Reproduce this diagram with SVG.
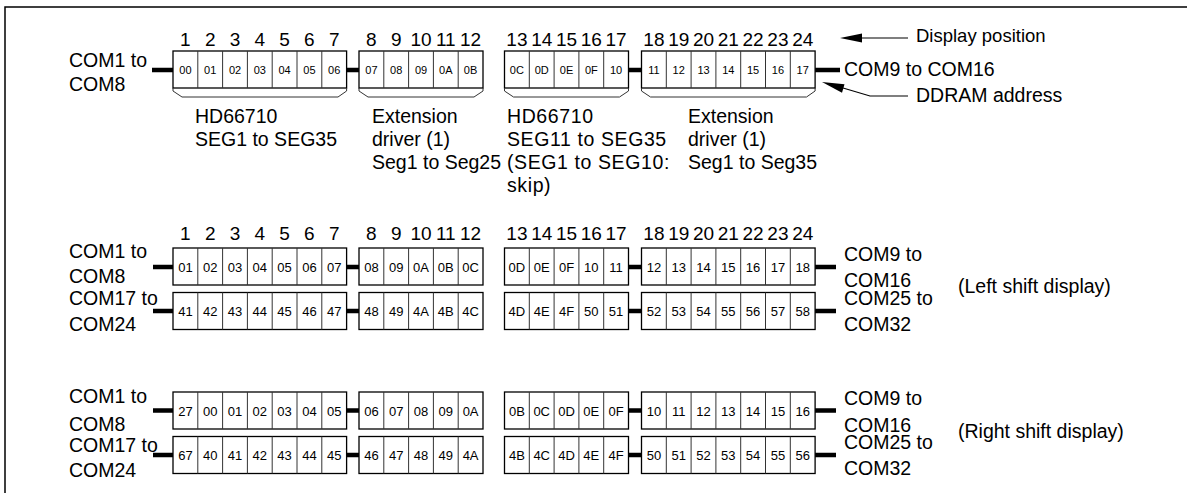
<svg xmlns="http://www.w3.org/2000/svg" width="1187" height="493" viewBox="0 0 1187 493">
<style>
text{font-family:"Liberation Sans",Arial,Helvetica,sans-serif;fill:#000}
.lbl{font-size:19.5px}
.lbs{font-size:18.5px}
.wide{letter-spacing:0.6px}
.num{font-size:19px;text-anchor:middle}
.s{font-size:11px;text-anchor:middle}
.m{font-size:13px;text-anchor:middle}
.box{fill:#fff;stroke:#000;stroke-width:1.3}
.div{stroke:#333;stroke-width:1;fill:none}
.bus{stroke:#000;stroke-width:4.5;fill:none}
.brk{fill:none;stroke:#333;stroke-width:1}
.frm{fill:none;stroke:#000;stroke-width:1.5}
.ptr{fill:none;stroke:#000;stroke-width:1.2}
</style>
<defs>
<g id="b7"><rect class="box" width="173.6" height="37"/><path class="div" d="M24.8,0v37M49.6,0v37M74.4,0v37M99.2,0v37M124,0v37M148.8,0v37"/></g>
<g id="b5"><rect class="box" width="124" height="37"/><path class="div" d="M24.8,0v37M49.6,0v37M74.4,0v37M99.2,0v37"/></g>
</defs>
<path class="frm" d="M5,493V7H1187"/>

<g id="connectors">
<path class="bus" d="M152,70H173M346.6,70H359M628.5,70H641.5M815,70H840"/>
<path class="bus" d="M153,267H173M346.6,267H359M628.5,267H641.5M815,267H836"/>
<path class="bus" d="M153,311H173M346.6,311H359M628.5,311H641.5M815,311H836"/>
<path class="bus" d="M153,410.5H173M346.6,410.5H359M628.5,410.5H641.5M815,410.5H836"/>
<path class="bus" d="M153,455H173M346.6,455H359M628.5,455H641.5M815,455H836"/>
<path class="ptr" d="M858,38H908"/>
<path d="M840,38L862,33.5L862,42.5Z" fill="#000"/>
<path class="ptr" d="M838,86.5L870,96H908"/>
<path d="M822,82L844.5,84.2L842,92.8Z" fill="#000"/>
</g>

<g id="top-positions">
<text class="num" x="185.4" y="46">1</text><text class="num" x="210.2" y="46">2</text><text class="num" x="235" y="46">3</text><text class="num" x="259.8" y="46">4</text><text class="num" x="284.6" y="46">5</text><text class="num" x="309.4" y="46">6</text><text class="num" x="334.2" y="46">7</text>
<text class="num" x="371.4" y="46">8</text><text class="num" x="396.2" y="46">9</text><text class="num" x="421" y="46">10</text><text class="num" x="445.8" y="46">11</text><text class="num" x="470.6" y="46">12</text>
<text class="num" x="516.9" y="46">13</text><text class="num" x="541.7" y="46">14</text><text class="num" x="566.5" y="46">15</text><text class="num" x="591.3" y="46">16</text><text class="num" x="616.1" y="46">17</text>
<text class="num" x="653.9" y="46">18</text><text class="num" x="678.7" y="46">19</text><text class="num" x="703.5" y="46">20</text><text class="num" x="728.3" y="46">21</text><text class="num" x="753.1" y="46">22</text><text class="num" x="777.9" y="46">23</text><text class="num" x="802.7" y="46">24</text>
</g>

<g id="top-A">
<use href="#b7" x="173" y="51"/>
<path class="brk" d="M173,88V91L182,97H338L346.6,91V88"/>
<text class="s" x="185.4" y="74">00</text><text class="s" x="210.2" y="74">01</text><text class="s" x="235" y="74">02</text><text class="s" x="259.8" y="74">03</text><text class="s" x="284.6" y="74">04</text><text class="s" x="309.4" y="74">05</text><text class="s" x="334.2" y="74">06</text>
</g>
<g id="top-B">
<use href="#b5" x="359" y="51"/>
<path class="brk" d="M359,88V91L368,97H474L483,91V88"/>
<text class="s" x="371.4" y="74">07</text><text class="s" x="396.2" y="74">08</text><text class="s" x="421" y="74">09</text><text class="s" x="445.8" y="74">0A</text><text class="s" x="470.6" y="74">0B</text>
</g>
<g id="top-C">
<use href="#b5" x="504.5" y="51"/>
<path class="brk" d="M504.5,88V91L513.5,97H619.5L628.5,91V88"/>
<text class="s" x="516.9" y="74">0C</text><text class="s" x="541.7" y="74">0D</text><text class="s" x="566.5" y="74">0E</text><text class="s" x="591.3" y="74">0F</text><text class="s" x="616.1" y="74">10</text>
</g>
<g id="top-D">
<use href="#b7" x="641.5" y="51"/>
<path class="brk" d="M641.5,88V91L650.5,97H806.5L815.1,91V88"/>
<text class="s" x="653.9" y="74">11</text><text class="s" x="678.7" y="74">12</text><text class="s" x="703.5" y="74">13</text><text class="s" x="728.3" y="74">14</text><text class="s" x="753.1" y="74">15</text><text class="s" x="777.9" y="74">16</text><text class="s" x="802.7" y="74">17</text>
</g>

<g id="top-labels">
<text class="lbl" x="69" y="67">COM1 to</text>
<text class="lbl" x="69" y="91">COM8</text>
<text class="lbl" x="844" y="76">COM9 to COM16</text>
<text class="lbs" x="916" y="42">Display position</text>
<text class="lbl" x="916" y="102">DDRAM address</text>
<text class="lbl" x="195" y="123">HD66710</text>
<text class="lbl" x="195" y="146">SEG1 to SEG35</text>
<text class="lbl" x="372" y="123">Extension</text>
<text class="lbl" x="372" y="146">driver (1)</text>
<text class="lbl" x="372" y="169">Seg1 to Seg25</text>
<text class="lbl wide" x="507" y="123">HD66710</text>
<text class="lbl wide" x="507" y="146">SEG11 to SEG35</text>
<text class="lbl wide" x="507" y="169">(SEG1 to SEG10:</text>
<text class="lbl wide" x="507" y="192">skip)</text>
<text class="lbl" x="688" y="123">Extension</text>
<text class="lbl" x="688" y="146">driver (1)</text>
<text class="lbl" x="688" y="169">Seg1 to Seg35</text>
</g>

<g id="mid-positions">
<text class="num" x="185.4" y="240">1</text><text class="num" x="210.2" y="240">2</text><text class="num" x="235" y="240">3</text><text class="num" x="259.8" y="240">4</text><text class="num" x="284.6" y="240">5</text><text class="num" x="309.4" y="240">6</text><text class="num" x="334.2" y="240">7</text>
<text class="num" x="371.4" y="240">8</text><text class="num" x="396.2" y="240">9</text><text class="num" x="421" y="240">10</text><text class="num" x="445.8" y="240">11</text><text class="num" x="470.6" y="240">12</text>
<text class="num" x="516.9" y="240">13</text><text class="num" x="541.7" y="240">14</text><text class="num" x="566.5" y="240">15</text><text class="num" x="591.3" y="240">16</text><text class="num" x="616.1" y="240">17</text>
<text class="num" x="653.9" y="240">18</text><text class="num" x="678.7" y="240">19</text><text class="num" x="703.5" y="240">20</text><text class="num" x="728.3" y="240">21</text><text class="num" x="753.1" y="240">22</text><text class="num" x="777.9" y="240">23</text><text class="num" x="802.7" y="240">24</text>
</g>

<g id="left-row1">
<use href="#b7" x="173" y="248"/><use href="#b5" x="359" y="248"/><use href="#b5" x="504.5" y="248"/><use href="#b7" x="641.5" y="248"/>
<text class="m" x="185.4" y="271.5">01</text><text class="m" x="210.2" y="271.5">02</text><text class="m" x="235" y="271.5">03</text><text class="m" x="259.8" y="271.5">04</text><text class="m" x="284.6" y="271.5">05</text><text class="m" x="309.4" y="271.5">06</text><text class="m" x="334.2" y="271.5">07</text>
<text class="m" x="371.4" y="271.5">08</text><text class="m" x="396.2" y="271.5">09</text><text class="m" x="421" y="271.5">0A</text><text class="m" x="445.8" y="271.5">0B</text><text class="m" x="470.6" y="271.5">0C</text>
<text class="m" x="516.9" y="271.5">0D</text><text class="m" x="541.7" y="271.5">0E</text><text class="m" x="566.5" y="271.5">0F</text><text class="m" x="591.3" y="271.5">10</text><text class="m" x="616.1" y="271.5">11</text>
<text class="m" x="653.9" y="271.5">12</text><text class="m" x="678.7" y="271.5">13</text><text class="m" x="703.5" y="271.5">14</text><text class="m" x="728.3" y="271.5">15</text><text class="m" x="753.1" y="271.5">16</text><text class="m" x="777.9" y="271.5">17</text><text class="m" x="802.7" y="271.5">18</text>
</g>
<g id="left-row2">
<use href="#b7" x="173" y="292.5"/><use href="#b5" x="359" y="292.5"/><use href="#b5" x="504.5" y="292.5"/><use href="#b7" x="641.5" y="292.5"/>
<text class="m" x="185.4" y="316">41</text><text class="m" x="210.2" y="316">42</text><text class="m" x="235" y="316">43</text><text class="m" x="259.8" y="316">44</text><text class="m" x="284.6" y="316">45</text><text class="m" x="309.4" y="316">46</text><text class="m" x="334.2" y="316">47</text>
<text class="m" x="371.4" y="316">48</text><text class="m" x="396.2" y="316">49</text><text class="m" x="421" y="316">4A</text><text class="m" x="445.8" y="316">4B</text><text class="m" x="470.6" y="316">4C</text>
<text class="m" x="516.9" y="316">4D</text><text class="m" x="541.7" y="316">4E</text><text class="m" x="566.5" y="316">4F</text><text class="m" x="591.3" y="316">50</text><text class="m" x="616.1" y="316">51</text>
<text class="m" x="653.9" y="316">52</text><text class="m" x="678.7" y="316">53</text><text class="m" x="703.5" y="316">54</text><text class="m" x="728.3" y="316">55</text><text class="m" x="753.1" y="316">56</text><text class="m" x="777.9" y="316">57</text><text class="m" x="802.7" y="316">58</text>
</g>
<g id="left-labels">
<text class="lbl" x="69" y="258">COM1 to</text>
<text class="lbl" x="69" y="283">COM8</text>
<text class="lbl" x="69" y="305">COM17 to</text>
<text class="lbl" x="69" y="331">COM24</text>
<text class="lbl" x="844" y="261">COM9 to</text>
<text class="lbl" x="844" y="287">COM16</text>
<text class="lbl" x="844" y="305">COM25 to</text>
<text class="lbl" x="844" y="331">COM32</text>
<text class="lbl" x="958" y="293">(Left shift display)</text>
</g>

<g id="right-row1">
<use href="#b7" x="173" y="392"/><use href="#b5" x="359" y="392"/><use href="#b5" x="504.5" y="392"/><use href="#b7" x="641.5" y="392"/>
<text class="m" x="185.4" y="415.5">27</text><text class="m" x="210.2" y="415.5">00</text><text class="m" x="235" y="415.5">01</text><text class="m" x="259.8" y="415.5">02</text><text class="m" x="284.6" y="415.5">03</text><text class="m" x="309.4" y="415.5">04</text><text class="m" x="334.2" y="415.5">05</text>
<text class="m" x="371.4" y="415.5">06</text><text class="m" x="396.2" y="415.5">07</text><text class="m" x="421" y="415.5">08</text><text class="m" x="445.8" y="415.5">09</text><text class="m" x="470.6" y="415.5">0A</text>
<text class="m" x="516.9" y="415.5">0B</text><text class="m" x="541.7" y="415.5">0C</text><text class="m" x="566.5" y="415.5">0D</text><text class="m" x="591.3" y="415.5">0E</text><text class="m" x="616.1" y="415.5">0F</text>
<text class="m" x="653.9" y="415.5">10</text><text class="m" x="678.7" y="415.5">11</text><text class="m" x="703.5" y="415.5">12</text><text class="m" x="728.3" y="415.5">13</text><text class="m" x="753.1" y="415.5">14</text><text class="m" x="777.9" y="415.5">15</text><text class="m" x="802.7" y="415.5">16</text>
</g>
<g id="right-row2">
<use href="#b7" x="173" y="436.5"/><use href="#b5" x="359" y="436.5"/><use href="#b5" x="504.5" y="436.5"/><use href="#b7" x="641.5" y="436.5"/>
<text class="m" x="185.4" y="460">67</text><text class="m" x="210.2" y="460">40</text><text class="m" x="235" y="460">41</text><text class="m" x="259.8" y="460">42</text><text class="m" x="284.6" y="460">43</text><text class="m" x="309.4" y="460">44</text><text class="m" x="334.2" y="460">45</text>
<text class="m" x="371.4" y="460">46</text><text class="m" x="396.2" y="460">47</text><text class="m" x="421" y="460">48</text><text class="m" x="445.8" y="460">49</text><text class="m" x="470.6" y="460">4A</text>
<text class="m" x="516.9" y="460">4B</text><text class="m" x="541.7" y="460">4C</text><text class="m" x="566.5" y="460">4D</text><text class="m" x="591.3" y="460">4E</text><text class="m" x="616.1" y="460">4F</text>
<text class="m" x="653.9" y="460">50</text><text class="m" x="678.7" y="460">51</text><text class="m" x="703.5" y="460">52</text><text class="m" x="728.3" y="460">53</text><text class="m" x="753.1" y="460">54</text><text class="m" x="777.9" y="460">55</text><text class="m" x="802.7" y="460">56</text>
</g>
<g id="right-labels">
<text class="lbl" x="69" y="403">COM1 to</text>
<text class="lbl" x="69" y="431">COM8</text>
<text class="lbl" x="69" y="452">COM17 to</text>
<text class="lbl" x="69" y="477">COM24</text>
<text class="lbl" x="844" y="405">COM9 to</text>
<text class="lbl" x="844" y="432">COM16</text>
<text class="lbl" x="844" y="449">COM25 to</text>
<text class="lbl" x="844" y="475">COM32</text>
<text class="lbl" x="958" y="438">(Right shift display)</text>
</g>
</svg>
